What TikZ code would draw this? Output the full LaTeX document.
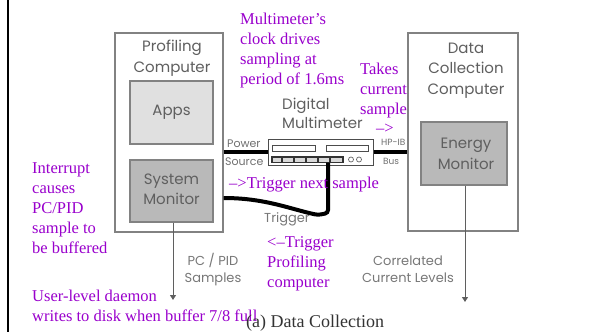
\documentclass[tikz,border=0pt]{standalone}
\usepackage{fontspec}
\setmainfont{Liberation Serif}
\newfontfamily\diagfont{Poppins}
\usetikzlibrary{arrows.meta}
\definecolor{notecol}{RGB}{153,0,204}
\definecolor{boxline}{RGB}{130,130,130}
\definecolor{labelgray}{RGB}{95,95,95}
\definecolor{appsfill}{RGB}{224,224,224}
\definecolor{monfill}{RGB}{185,185,185}
\tikzset{
  compbox/.style={draw=boxline, line width=1.3pt, fill=white, inner sep=0pt},
  innerbox/.style={draw=boxline, line width=1.3pt, inner sep=0pt},
  glabel/.style={font=\diagfont\fontsize{15}{18}\selectfont, text=labelgray, inner sep=0pt, anchor=base},
  slabel/.style={font=\diagfont\fontsize{13}{15}\selectfont, text=labelgray!85, inner sep=0pt, anchor=base},
  tlabel/.style={font=\diagfont\fontsize{9}{10}\selectfont, text=labelgray!90, inner sep=0pt, anchor=base west},
  plabel/.style={tlabel, font=\diagfont\fontsize{11}{12}\selectfont},
  note/.style={font=\fontsize{16.5}{20}\selectfont, text=notecol, inner sep=0pt, anchor=base west},
  cable/.style={line width=4pt, black},
  flow/.style={draw=labelgray, line width=1pt, -{Triangle[length=5pt,width=6pt]}},
}
\begin{document}
\begin{tikzpicture}[x=1pt, y=-1pt]
\useasboundingbox (0,0) rectangle (590,332);

% page margin rule
\draw[line width=2.5pt] (8,0) -- (8,332);

% profiling computer
\node[compbox, minimum width=108, minimum height=199] (pc) at (169,132.5) {};
\node[glabel] (pct1) at (172,51) {Profiling};
\node[glabel] (pct2) at (172,72) {Computer};
\node[innerbox, fill=appsfill, minimum width=83, minimum height=63] (apps) at (171.5,112.5) {};
\node[glabel] (appst) at (171.5,115) {Apps};
\node[innerbox, fill=monfill, minimum width=83, minimum height=62] (sysmon) at (171.5,191) {};
\node[glabel] (smt1) at (171.5,184) {System};
\node[glabel] (smt2) at (171.5,204) {Monitor};

% data collection computer
\node[compbox, minimum width=110, minimum height=198] (dc) at (463,132) {};
\node[glabel] (dct1) at (466,53) {Data};
\node[glabel] (dct2) at (466,74) {Collection};
\node[glabel] (dct3) at (466,94) {Computer};
\node[innerbox, fill=monfill, minimum width=86, minimum height=63] (energy) at (464,153.5) {};
\node[glabel] (emt1) at (466,148) {Energy};
\node[glabel] (emt2) at (466,169) {Monitor};

% digital multimeter
\node[glabel, anchor=base west] (dmmt1) at (282,109) {Digital};
\node[glabel, anchor=base west] (dmmt2) at (282,128) {Multimeter};
\node[draw=black!70, line width=1pt, fill=white, minimum width=105, minimum height=26, inner sep=0pt] (dmm) at (320.5,152) {};
\draw[black!70, line width=0.9pt] (272,145) rectangle (315,151);
\draw[black!70, line width=0.9pt] (326,145) rectangle (368,151);
\draw[black!80, fill=black!15, line width=1.3pt] (272,157) rectangle (343,162.5);
\foreach \k in {282,294,306,318,330} \draw[black!80, line width=1.3pt] (\k,157) -- (\k,162.5);
\draw[black!60, line width=0.7pt] (351,159.5) circle (2.5) (359,159.5) circle (2.5);
\node[plabel] (pwr) at (227,147) {Power};
\node[plabel] (src) at (225,165) {Source};
\node[tlabel] (hpib) at (381,145) {HP-IB};
\node[tlabel] (bus) at (383,164) {Bus};

% cables
\coordinate (trigtop) at (328,162.5);
\coordinate (trigpc) at (pc.east |- 0,198);
\draw[cable] (pc.east |- dmm.west) -- (dmm.west);
\draw[cable] (dmm.east) -- (dc.west |- dmm.east);
\draw[cable, rounded corners=3pt] (trigpc) .. controls (265,198) and (290,209) .. (318,215) -- (328,213) -- (trigtop);
\node[slabel] (trigt) at (287,222) {Trigger};

% sample outputs
\coordinate (pcout) at (173,300);
\coordinate (dcout) at (465,302);
\draw[flow] (sysmon.south -| pcout) -- (pcout);
\draw[flow] (energy.south -| dcout) -- (dcout);
\node[slabel] (pcs1) at (213,265) {PC / PID};
\node[slabel] (pcs2) at (213,282) {Samples};
\node[slabel] (cur1) at (408,265) {Correlated};
\node[slabel] (cur2) at (408,282) {Current Levels};

% annotations (base anchor sits on the last line)
\node[note, align=left] (n1) at (240,84) {Multimeter’s\\clock drives\\sampling at\\period of 1.6ms};
\node[note, align=left] (n2) at (360,114) {Takes\\current\\sample};
\node[note] (n2a) at (376,133) {–>};
\node[note] (n3) at (229,188) {–>Trigger next sample};
\node[note, align=left] (n4) at (267,287) {<–Trigger\\Profiling\\computer};
\node[note, align=left] (n5) at (32,253) {Interrupt\\causes\\PC/PID\\sample to\\be buffered};
\node[note, align=left] (n6) at (32,321) {User-level daemon\\writes to disk when buffer 7/8 full};

% caption
\node[font=\fontsize{18}{20}\selectfont, text=black!80, inner sep=0pt, anchor=base west] (cap) at (246,327) {(a) Data Collection};
\end{tikzpicture}
\end{document}
